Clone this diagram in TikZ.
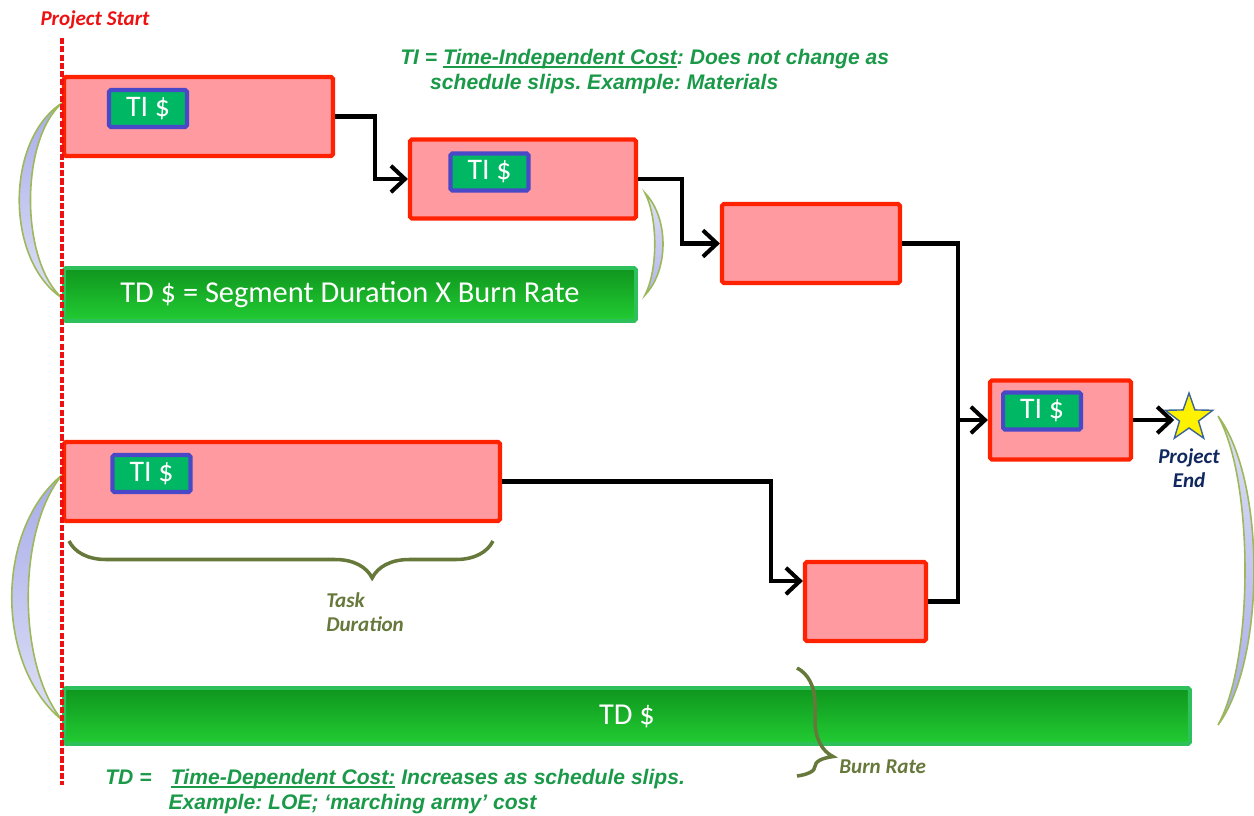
\documentclass[tikz,border=0pt]{standalone}
\usepackage{fontspec}
\setmainfont{Carlito}
\newfontfamily\arialfont{Liberation Sans}
\usepackage{tikz}
\usetikzlibrary{positioning,arrows.meta,shapes.geometric,decorations.pathreplacing}
\definecolor{taskpink}{HTML}{FF9AA0}
\definecolor{taskred}{HTML}{FF2200}
\definecolor{tiblue}{HTML}{4848C8}
\definecolor{tigreen}{HTML}{00B863}
\definecolor{tddark}{HTML}{0F961E}
\definecolor{tdlight}{HTML}{22CC33}
\definecolor{tdedge}{HTML}{2EC05A}
\definecolor{lensdark}{HTML}{A8ACE8}
\definecolor{lenslight}{HTML}{DEE0F6}
\definecolor{lensedge}{HTML}{9CB85A}
\definecolor{braceolive}{HTML}{66783A}
\definecolor{notegreen}{HTML}{1A9A48}
\definecolor{endnavy}{HTML}{10285E}
\definecolor{startred}{HTML}{EE1111}
\definecolor{starblue}{HTML}{3C6496}
\newcommand\undl[1]{\setbox0\hbox{#1}\rlap{\rule[-1.7pt]{\wd0}{0.9pt}}\box0\relax}
\tikzset{x=0.02cm, y=-0.02cm}
\tikzstyle{task}=[draw=taskred, fill=taskpink, line width=2.4pt, rounded corners=1pt, minimum height=1.58cm, inner sep=0pt]
\tikzstyle{ti}=[draw=tiblue, fill=tigreen, line width=2.3pt, rounded corners=1pt, minimum width=1.56cm, minimum height=0.74cm, inner sep=0pt, text=white, font=\fontsize{17}{19}\selectfont]
\tikzstyle{td}=[draw=tdedge, line width=2.2pt, top color=tddark, bottom color=tdlight, rounded corners=1pt, inner sep=0pt, text=white, font=\fontsize{17.3}{19}\selectfont]
\tikzstyle{conn}=[line width=2.3pt, -{Straight Barb[length=8pt,width=15pt]}]
\tikzstyle{link}=[line width=2.3pt]
\tikzstyle{lens}=[draw=lensedge, line width=0.9pt]
\tikzstyle{brc}=[draw=braceolive, line width=2pt, decorate]
\tikzstyle{brlbl}=[text=braceolive, font=\bfseries\itshape\fontsize{12}{14}\selectfont, align=left, inner sep=0pt]
\tikzstyle{note}=[text=notegreen, font=\arialfont\bfseries\itshape\fontsize{12}{14.2}\selectfont\frenchspacing, align=left, inner sep=0pt]

\begin{document}
\begin{tikzpicture}
        \useasboundingbox (0,0) rectangle (1254,815);
        % lenses
        \shadedraw[lens, top color=lensdark, bottom color=lenslight] (62,103) .. controls (5,140) and (5,260) .. (62,298) .. controls (20,260) and (20,140) .. (62,103) -- cycle;
        \shadedraw[lens, top color=lenslight, bottom color=lensdark!80!lenslight] (645,193) .. controls (669,218) and (669,270) .. (645,295) .. controls (658,270) and (658,218) .. (645,193) -- cycle;
        \shadedraw[lens, top color=lensdark, bottom color=lenslight] (62,475) .. controls (-5,530) and (-5,665) .. (62,720) .. controls (17,665) and (17,530) .. (62,475) -- cycle;
        \shadedraw[lens, top color=lenslight, bottom color=lensdark] (1218,416) .. controls (1266,480) and (1266,660) .. (1218,725) .. controls (1254,660) and (1254,480) .. (1218,416) -- cycle;
        % tasks
        \node[task, minimum width=5.38cm] (t1) at (198.5,116.5) {};
        \node[task, minimum width=4.52cm] (t2) at (523,179) {};
        \node[task, minimum width=3.56cm] (t3) at (811,243.5) {};
        \node[task, minimum width=2.82cm] (t4) at (1060.5,420) {};
        \node[task, minimum width=8.72cm] (t5) at (282,481.5) {};
        \node[task, minimum width=2.42cm] (t6) at (865.5,601.5) {};
        \node[ti] (ti1) at (148,108.5) {TI \$};
        \node[ti] (ti2) at (489.5,172) {TI \$};
        \node[ti] (ti4) at (1042,411) {TI \$};
        \node[ti] (ti5) at (151.5,473.5) {TI \$};
        % time dependent bars
        \node[td, minimum width=11.44cm, minimum height=1.06cm] (td1) at (350,294.5) {TD \$ = Segment Duration X Burn Rate};
        \node[td, minimum width=22.52cm, minimum height=1.12cm] (td2) at (627,716) {TD \$};
        % end
        \node[star, star points=5, star point ratio=2.5, minimum size=1cm, inner sep=0pt, fill=yellow, draw=starblue, line width=0.8pt] (end) at (1189,418) {};
        \node[text=endnavy, font=\bfseries\itshape\fontsize{12}{14}\selectfont, align=center, inner sep=0pt, below=0.38cm of end] (endtxt) {Project\\End};
        \coordinate (j) at (958,420);
        \draw[conn] (t1.east) -- ++(40,0) |- (t2.west);
        \draw[conn] (t2.east) -- ++(44,0) |- (t3.west);
        \draw[conn] (t3.east) -| (j) -- (t4.west);
        \draw[link] (t6.east) -| (j);
        \draw[conn] (t5.east) -- ++(269,0) |- ([yshift=0.41cm]t6.west);
        \draw[conn] (t4.east) -- (t4.east -| end.west);
        % braces
        \coordinate (b1) at (493,541);
        \coordinate (b2) at (69,541);
        \draw[brc, decoration={brace, amplitude=0.74cm, aspect=0.285}] (b1) -- (b2);
        \node[brlbl, anchor=north west] (dur) at (326,592) {Task\\Duration};
        \coordinate (r1) at (797,668);
        \coordinate (r2) at (797,776);
        \draw[brc, decoration={brace, amplitude=0.72cm, aspect=0.82}] (r1) -- (r2);
        \node[brlbl, anchor=west] (burn) at (839,767) {Burn Rate};
        % notes
        \node[note, anchor=north west] (tinote) at (400,49) {TI = \undl{Time-Independent Cost}: Does not change as\\\hspace*{17pt}schedule slips. Example: Materials};
        \node[note, anchor=north west] (tdnote) at (105,769) {TD =\hspace{11pt}\undl{Time-Dependent Cost:} Increases as schedule slips.\\\hspace*{36pt}Example: LOE; ‘marching army’ cost};
        % project start
        \node[text=startred, font=\bfseries\itshape\fontsize{12}{14}\selectfont, inner sep=0pt] (start) at (95,20) {Project Start};
        \coordinate (s1) at (62,38);
        \coordinate (s2) at (62,785);
        \draw[startred, line width=1.8pt, dash pattern=on 3.5pt off 1.2pt] (s1) -- (s2);
\end{tikzpicture}
\end{document}
